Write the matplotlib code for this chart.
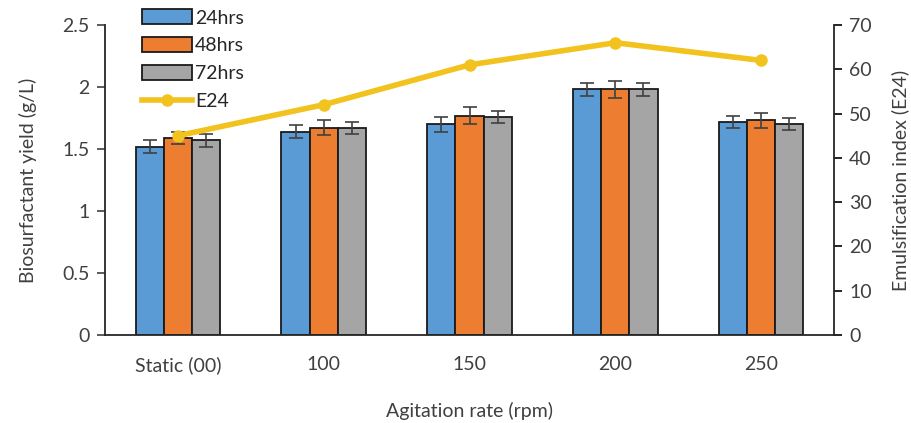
import matplotlib
matplotlib.use("Agg")
import matplotlib.pyplot as plt
import numpy as np
from matplotlib.patches import Patch
from matplotlib.lines import Line2D

plt.rcParams['font.family'] = ['Lato', 'DejaVu Sans']

categories = ["Static (00)", "100", "150", "200", "250"]
series_names = ["24hrs", "48hrs", "72hrs"]
yield_24 = [1.52, 1.64, 1.70, 1.98, 1.72]
yield_48 = [1.59, 1.67, 1.77, 1.98, 1.73]
yield_72 = [1.57, 1.67, 1.76, 1.98, 1.70]
err_24 = [0.05, 0.05, 0.06, 0.05, 0.05]
err_48 = [0.05, 0.06, 0.07, 0.07, 0.06]
err_72 = [0.05, 0.05, 0.05, 0.05, 0.05]
e24 = [45, 52, 61, 66, 62]

colors = ["#5B9BD5", "#ED7D31", "#A5A5A5"]
line_color = "#F2C21E"
fs = 14

fig = plt.figure(figsize=(9.11, 4.23), dpi=100)
ax = fig.add_axes([105/911, 88/423, 729/911, 310/423])
x = np.arange(len(categories))
w = 0.193
vals = [yield_24, yield_48, yield_72]
errs = [err_24, err_48, err_72]
for i in range(3):
    ax.bar(x + (i - 1) * w, vals[i], width=w, color=colors[i], edgecolor="#1a1a1a",
           linewidth=1.3, yerr=errs[i], capsize=5,
           error_kw=dict(ecolor="#404040", elinewidth=1.2, capthick=1.2), zorder=2)

ax.set_xlim(-0.5, len(categories) - 0.5)
ax.set_ylim(0, 2.5)
ax.set_yticks([0, 0.5, 1, 1.5, 2, 2.5])
ax.set_yticklabels(["0", "0.5", "1", "1.5", "2", "2.5"])
ax.set_xticks(x)
ax.set_xticklabels(categories)
ax.tick_params(axis='x', length=0, pad=15, labelsize=fs, colors="#404040")
ax.tick_params(axis='y', direction='out', length=6, width=1.2, labelsize=fs, colors="#404040", pad=5)
ax.spines['top'].set_visible(False)
ax.spines['right'].set_visible(False)
for s in ['left', 'bottom']:
    ax.spines[s].set_color("#262626")
    ax.spines[s].set_linewidth(1.3)
ax.set_ylabel("Biosurfactant yield (g/L)", fontsize=fs, color="#404040", labelpad=18)
ax.set_xlabel("Agitation rate (rpm)", fontsize=fs, color="#404040", labelpad=20)

ax2 = ax.twinx()
ax2.plot(x, e24, color=line_color, linewidth=4, marker='o', markersize=8, zorder=5)
ax2.set_ylim(0, 70)
ax2.set_yticks(range(0, 71, 10))
ax2.tick_params(axis='y', direction='out', length=6, width=1.2, labelsize=fs, labelcolor="#404040", pad=5)
ax2.spines['top'].set_visible(False)
ax2.spines['left'].set_visible(False)
ax2.spines['bottom'].set_visible(False)
ax2.spines['right'].set_color("#262626")
ax2.spines['right'].set_linewidth(1.3)
ax2.set_ylabel("Emulsification index (E24)", fontsize=fs, color="#404040", labelpad=14)

handles = [Patch(facecolor=c, edgecolor="#1a1a1a", linewidth=1.3) for c in colors]
handles.append(Line2D([0], [0], color=line_color, linewidth=4, marker='o', markersize=8))
labels = series_names + ["E24"]
fig.legend(handles, labels, loc='upper left', bbox_to_anchor=(128/911, 1.01),
           frameon=False, fontsize=fs, handlelength=2.6, handleheight=0.8,
           labelspacing=0.55, handletextpad=0.15, borderpad=0.2, labelcolor="#262626")

fig.savefig("out.png", dpi=100)
